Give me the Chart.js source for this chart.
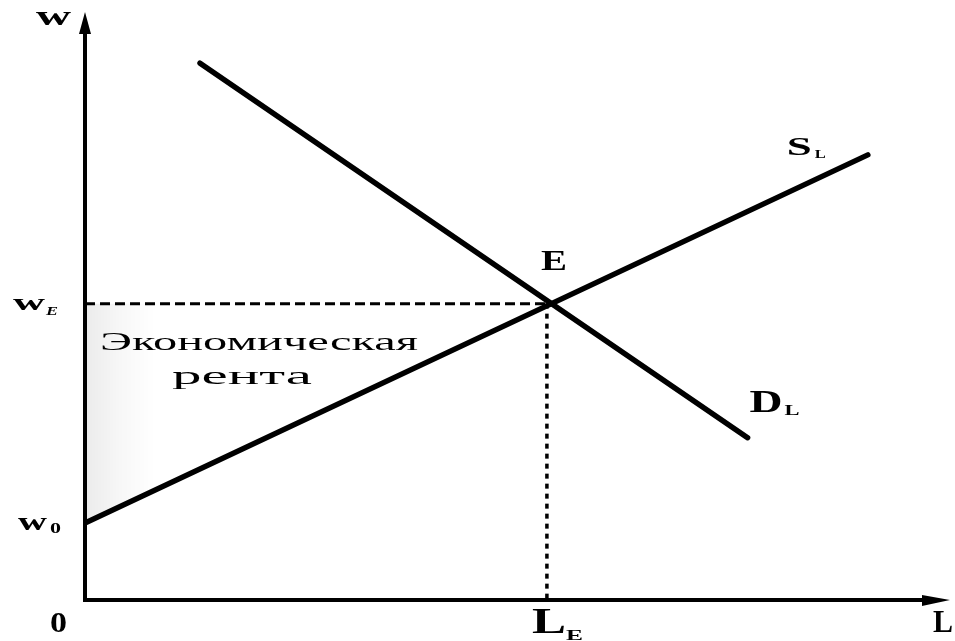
<!DOCTYPE html>
<html><head><meta charset="utf-8">
<script src="https://cdn.jsdelivr.net/npm/chart.js@4"></script>
<style>html,body{margin:0;padding:0;background:#fff}#wrap{width:955px;height:641px}</style>
</head><body><div id="wrap"><canvas id="c" width="955" height="641"></canvas></div>
<script>
// Data (L units on x, w units on y)
const demandL = [13.3, 76.6];
const demandW = [91.3, 27.6];
const supplyL = [0, 90.5];
const supplyW = [13.1, 75.7];
const eqL = 53.4;   // L_E
const eqW = 50.4;   // w_E
const w0 = 13.1;    // w_0
const yAxisLabel = 'w';
const xAxisLabel = 'L';
const rentLabel = ['Экономическая', 'рента'];

const pts = (xs, ys) => xs.map((x, i) => ({x, y: ys[i]}));

function fitText(ctx, text, x, y, font, width) {
  ctx.save();
  ctx.font = font;
  const m = ctx.measureText(text).width;
  ctx.translate(x, y);
  ctx.scale(width / m, 1);
  ctx.textAlign = 'left';
  ctx.textBaseline = 'alphabetic';
  ctx.fillStyle = '#000';
  ctx.fillText(text, 0, 0);
  ctx.restore();
}

const SERIF = '"Liberation Serif", "DejaVu Serif", serif';

const deco = {
  id: 'deco',
  beforeDatasetsDraw(chart) {
    const {ctx, scales: {x, y}} = chart;
    const ax = x.getPixelForValue(0);
    const g = ctx.createLinearGradient(ax, 0, ax + 70, 0);
    g.addColorStop(0, 'rgba(0,0,0,0.08)');
    g.addColorStop(0.5, 'rgba(0,0,0,0.03)');
    g.addColorStop(1, 'rgba(0,0,0,0)');
    ctx.save();
    ctx.beginPath();
    ctx.moveTo(ax, y.getPixelForValue(w0));
    ctx.lineTo(ax, y.getPixelForValue(eqW));
    ctx.lineTo(x.getPixelForValue(eqL), y.getPixelForValue(eqW));
    ctx.closePath();
    ctx.fillStyle = g;
    ctx.fill();
    ctx.restore();
  },
  afterDatasetsDraw(chart) {
    const {ctx, chartArea: ca, scales: {x, y}} = chart;
    const ax = x.getPixelForValue(0), ay = y.getPixelForValue(0);
    ctx.save();
    ctx.strokeStyle = '#000';
    ctx.fillStyle = '#000';
    ctx.lineWidth = 4;
    ctx.lineCap = 'butt';
    ctx.beginPath();
    ctx.moveTo(ax, ca.top + 18);
    ctx.lineTo(ax, ay);
    ctx.lineTo(ca.right - 20, ay);
    ctx.stroke();
    ctx.beginPath();
    ctx.moveTo(ax, ca.top);
    ctx.lineTo(ax - 6, ca.top + 22);
    ctx.lineTo(ax + 6, ca.top + 22);
    ctx.closePath();
    ctx.fill();
    ctx.beginPath();
    ctx.moveTo(ca.right, ay);
    ctx.lineTo(ca.right - 28, ay - 5);
    ctx.lineTo(ca.right - 28, ay + 6);
    ctx.closePath();
    ctx.fill();
    ctx.restore();

    const ex = x.getPixelForValue(eqL), ey = y.getPixelForValue(eqW);
    const wy0 = y.getPixelForValue(w0);
    const B = 'bold ';
    fitText(ctx, yAxisLabel, ax - 49, ca.top + 13, B + '28px ' + SERIF, 35);
    fitText(ctx, xAxisLabel, ca.right - 17, ay + 32, B + '32px ' + SERIF, 20);
    fitText(ctx, '0', ax - 35, ay + 32, B + '29px ' + SERIF, 17);
    fitText(ctx, 'w', ax - 72, ey + 6, B + '23px ' + SERIF, 32);
    fitText(ctx, 'E', ax - 39, ey + 11, 'italic bold 13px ' + SERIF, 12);
    fitText(ctx, 'w', ax - 67, wy0 + 7, B + '26px ' + SERIF, 29);
    fitText(ctx, '0', ax - 35, wy0 + 10, B + '15px ' + SERIF, 11);
    fitText(ctx, 'L', ex - 15, ay + 33, B + '35px ' + SERIF, 34);
    fitText(ctx, 'E', ex + 19, ay + 40, B + '14px ' + SERIF, 17);
    fitText(ctx, 'E', ex - 6, ey - 34, B + '29px ' + SERIF, 26);
    const sx = x.getPixelForValue(supplyL[1]), sy = y.getPixelForValue(supplyW[1]);
    fitText(ctx, 'S', sx - 81, sy, B + '26px ' + SERIF, 25);
    fitText(ctx, 'L', sx - 53, sy + 3, B + '13px ' + SERIF, 11);
    const dx = x.getPixelForValue(demandL[1]), dy = y.getPixelForValue(demandW[1]);
    fitText(ctx, 'D', dx + 2, dy - 26, B + '31px ' + SERIF, 33);
    fitText(ctx, 'L', dx + 37, dy - 23, B + '15px ' + SERIF, 15);
    fitText(ctx, rentLabel[0], ax + 15, ey + 46, '25px ' + SERIF, 318);
    fitText(ctx, rentLabel[1], ax + 87, ey + 80, '25px ' + SERIF, 140);
  }
};

new Chart(document.getElementById('c'), {
  type: 'line',
  data: {
    datasets: [
      {data: pts(demandL, demandW), borderColor: '#000', borderWidth: 5.5, pointRadius: 0, borderCapStyle: 'round'},
      {data: pts(supplyL, supplyW), borderColor: '#000', borderWidth: 5.5, pointRadius: 0, borderCapStyle: 'round'},
      {data: [{x: 0, y: eqW}, {x: eqL, y: eqW}], borderColor: '#000', borderWidth: 3, borderDash: [10, 5], pointRadius: 0},
      {data: [{x: eqL, y: eqW}, {x: eqL, y: 0}], borderColor: '#000', borderWidth: 3.5, borderDash: [5, 5], pointRadius: 0}
    ]
  },
  options: {
    responsive: false,
    animation: false,
    layout: {padding: {left: 85, right: 5, top: 12, bottom: 41}},
    plugins: {legend: {display: false}, tooltip: {enabled: false}},
    scales: {
      x: {type: 'linear', min: 0, max: 100, display: false},
      y: {type: 'linear', min: 0, max: 100, display: false}
    }
  },
  plugins: [deco]
});
</script>
</body></html>
